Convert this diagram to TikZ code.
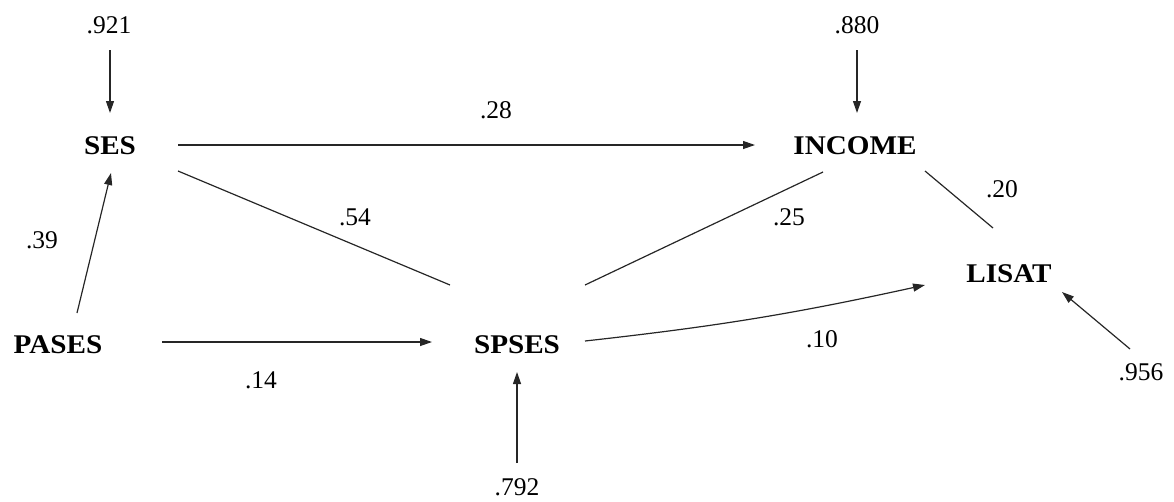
\documentclass[tikz,border=0pt]{standalone}
\usepackage{fontspec}
\setmainfont{Liberation Serif}
\newfontfamily\lblfont{Liberation Serif}[FakeStretch=1.08]
\usetikzlibrary{arrows.meta,calc}
\tikzset{
  varbox/.style={anchor=base, inner sep=0pt, font=\lblfont\bfseries\fontsize{27}{30}\selectfont},
  numlab/.style={anchor=base, inner sep=0pt, font=\fontsize{25.5}{30}\selectfont},
  path/.style={line width=1.2pt, draw=black!85},
  arr/.style={path, -{Triangle[length=12pt,width=8pt]}},
}
\begin{document}
\begin{tikzpicture}[x=1pt,y=-1pt]
\useasboundingbox (0,0) rectangle (1174,501);
% variables
\node[varbox] (ses) at (110,154) {SES};
\node[varbox] (inc) at (855,154) {INCOME};
\node[varbox] (pases) at (58,353) {PASES};
\node[varbox] (spses) at (517,353) {SPSES};
\node[varbox] (lisat) at (1009,282) {LISAT};
% residuals
\node[numlab] (e1) at (109,33) {.921};
\node[numlab] (e2) at (857,33) {.880};
\node[numlab] (e3) at (1141,380) {.956};
\node[numlab] (e4) at (517,495) {.792};
% coefficients
\node[numlab] (l28) at (496,118) {.28};
\node[numlab] (l54) at (355,225) {.54};
\node[numlab] (l25) at (789,225) {.25};
\node[numlab] (l20) at (1002,197) {.20};
\node[numlab] (l39) at (42,248) {.39};
\node[numlab] (l14) at (261,388) {.14};
\node[numlab] (l10) at (822,347) {.10};
% connectors
\draw[arr] ($(e1.base)+(1,17)$) -- ($(ses.base)+(0,-41)$);
\draw[arr] ($(e2.base)+(0,17)$) -- ($(inc.base)+(2,-41)$);
\draw[arr] ($(ses.base)+(68,-9)$) -- ($(inc.base)+(-100,-9)$);
\draw[path] ($(ses.base)+(68,17)$) -- ($(spses.base)+(-67,-68)$);
\draw[path] ($(spses.base)+(68,-68)$) -- ($(inc.base)+(-32,18)$);
\draw[path] ($(inc.base)+(70,17)$) -- ($(lisat.base)+(-16,-54)$);
\draw[arr] ($(pases.base)+(19,-40)$) -- ($(ses.base)+(1,19)$);
\draw[arr] ($(pases.base)+(104,-11)$) -- ($(spses.base)+(-85,-11)$);
\draw[arr] ($(spses.base)+(68,-12)$) to[bend right=3] ($(lisat.base)+(-84,3)$);
\draw[arr] ($(e3.base)+(-11,-31)$) -- ($(lisat.base)+(53,10)$);
\draw[arr] ($(e4.base)+(0,-32)$) -- ($(spses.base)+(0,19)$);
\end{tikzpicture}
\end{document}
